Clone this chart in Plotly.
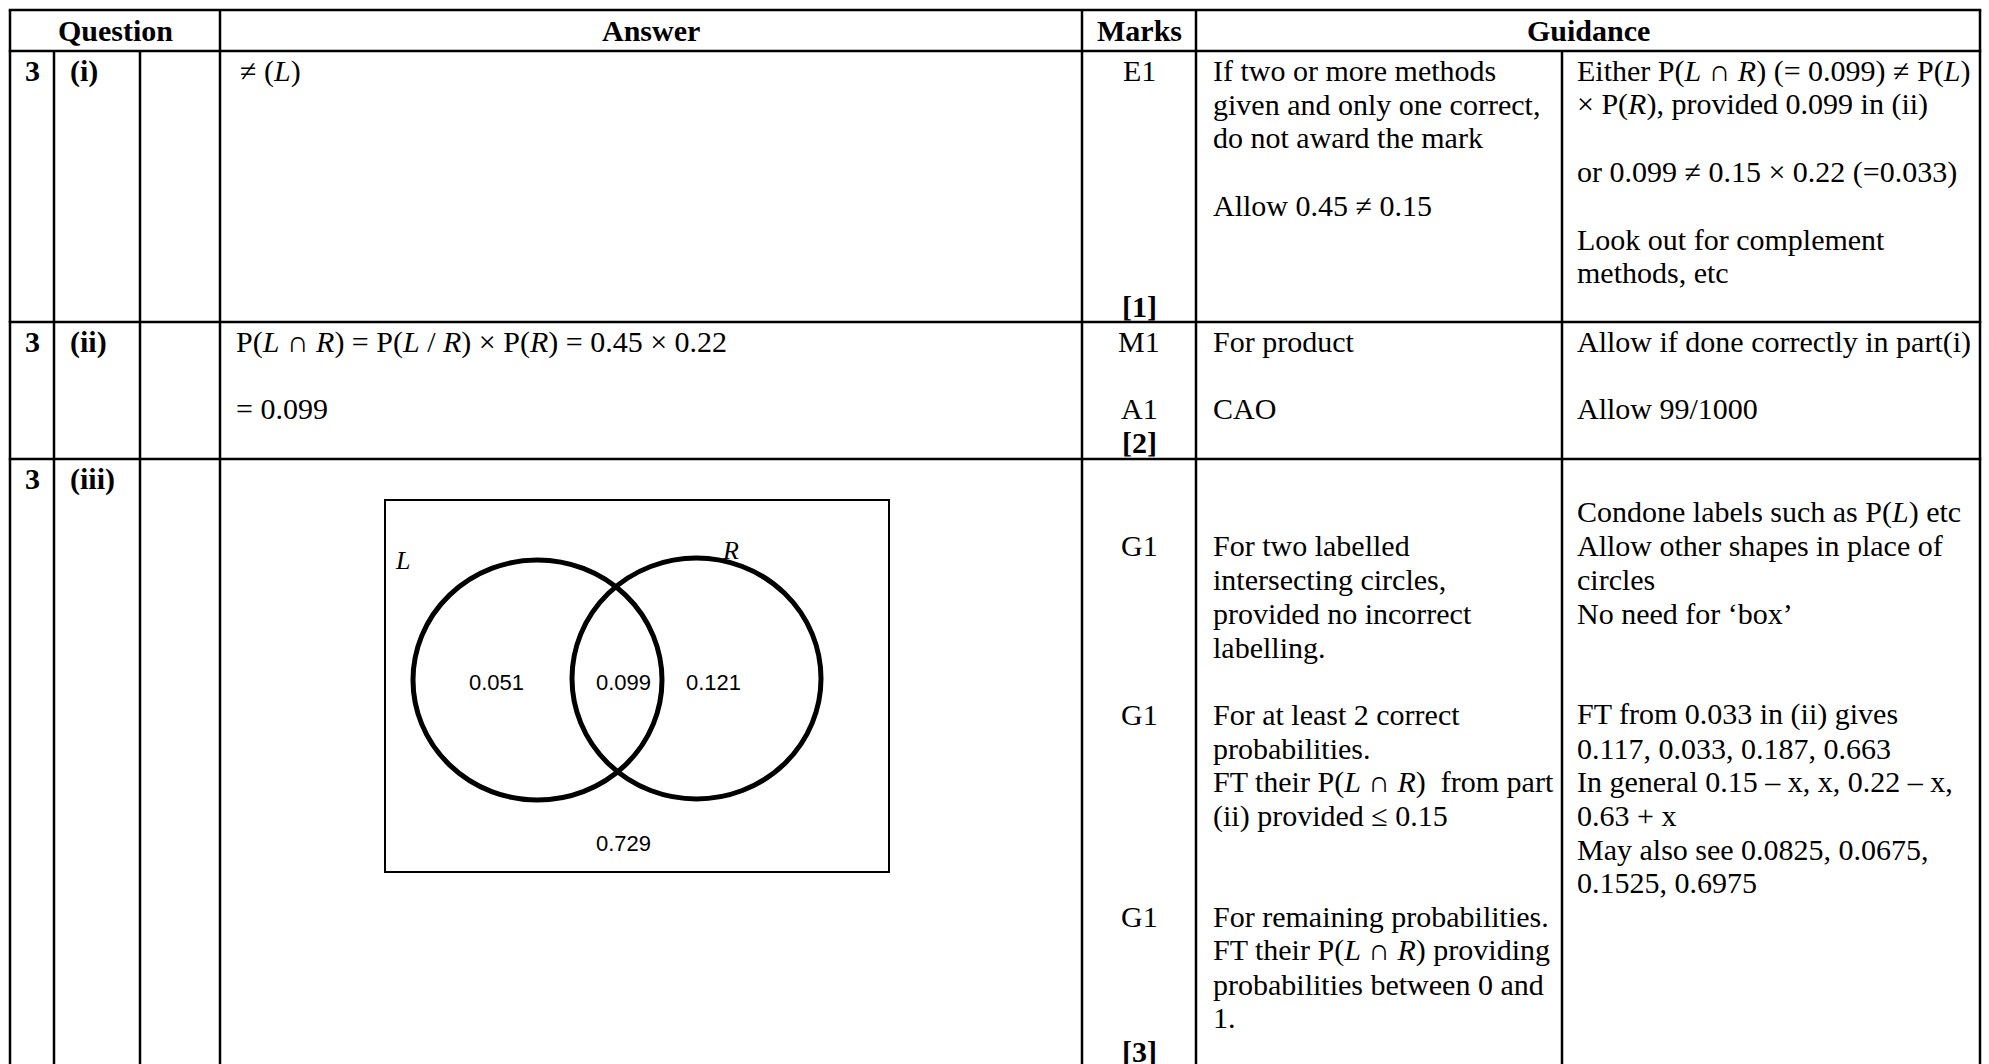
import plotly.graph_objects as go

# ---------------- data (text content of the mark-scheme table) ----------------
header_labels = ["Question", "Answer", "Marks", "Guidance"]
question_numbers = ["3", "3", "3"]
question_parts = ["(i)", "(ii)", "(iii)"]

# row 3(i)
answer_i = ["≠ (<i>L</i>)"]
marks_i = ["E1", "", "", "", "", "", "", "<b>[1]</b>"]
guidance_a_i = ["If two or more methods", "given and only one correct,",
                "do not award the mark", "", "Allow 0.45 ≠ 0.15"]
guidance_b_i = ["Either P(<i>L</i> ∩ <i>R</i>) (= 0.099) ≠ P(<i>L</i>)",
                "× P(<i>R</i>), provided 0.099 in (ii)", "",
                "or 0.099 ≠ 0.15 × 0.22 (=0.033)", "",
                "Look out for complement", "methods, etc"]

# row 3(ii)
answer_ii = ["P(<i>L</i> ∩ <i>R</i>) = P(<i>L</i> / <i>R</i>) × P(<i>R</i>) = 0.45 × 0.22",
             "", "= 0.099"]
marks_ii = ["M1", "", "A1", "<b>[2]</b>"]
guidance_a_ii = ["For product", "", "CAO"]
guidance_b_ii = ["Allow if done correctly in part(i)", "", "Allow 99/1000"]

# row 3(iii)
marks_iii = ["", "", "G1", "", "", "", "", "G1", "", "", "", "", "", "G1",
             "", "", "", "<b>[3]</b>"]
guidance_a_iii = ["", "", "For two labelled", "intersecting circles,",
                  "provided no incorrect", "labelling.", "",
                  "For at least 2 correct", "probabilities.",
                  "FT their P(<i>L</i> ∩ <i>R</i>)  from part",
                  "(ii) provided ≤ 0.15", "", "",
                  "For remaining probabilities.",
                  "FT their P(<i>L</i> ∩ <i>R</i>) providing",
                  "probabilities between 0 and", "1."]
guidance_b_iii = ["", "Condone labels such as P(<i>L</i>) etc",
                  "Allow other shapes in place of", "circles",
                  "No need for ‘box’", "", "",
                  "FT from 0.033 in (ii) gives",
                  "0.117, 0.033, 0.187, 0.663",
                  "In general 0.15 – x, x, 0.22 – x,",
                  "0.63 + x", "May also see 0.0825, 0.0675,",
                  "0.1525, 0.6975"]

venn_sets = ["L", "R"]
venn_values = ["0.051", "0.099", "0.121", "0.729"]

# ---------------- layout geometry ----------------
W, H = 1989, 1064
col_x = [10, 54, 140, 220, 1082, 1196, 1562, 1980]
row_y = [10, 51, 322, 459, H + 5]
LINE_H = 33.7
FIRST = 19.5
SERIF = "Liberation Serif, Times New Roman, serif"
SANS = "Liberation Sans, Arial, sans-serif"
FS = 30
LW = 2.5

fig = go.Figure()
shapes = []
annotations = []


def hline(y, x0, x1, w=LW):
    shapes.append(dict(type="line", xref="x", yref="y", x0=x0, x1=x1, y0=y, y1=y,
                       line=dict(color="black", width=w)))


def vline(x, y0, y1, w=LW):
    shapes.append(dict(type="line", xref="x", yref="y", x0=x, x1=x, y0=y0, y1=y1,
                       line=dict(color="black", width=w)))


def text(x, y, s, anchor="left", size=FS, family=SERIF):
    if not s:
        return
    annotations.append(dict(x=x, y=y, xref="x", yref="y", text=s, showarrow=False,
                            xanchor=anchor, yanchor="middle",
                            font=dict(family=family, size=size, color="black")))


def lines(x, top, items, anchor="left"):
    for i, s in enumerate(items):
        text(x, top + FIRST + i * LINE_H, s, anchor)


# grid
for y in row_y[:4]:
    hline(y, col_x[0] - LW / 2, col_x[-1] + LW / 2)
for x in [col_x[0], col_x[3], col_x[4], col_x[5], col_x[7]]:
    vline(x, row_y[0], row_y[-1])
for x in [col_x[1], col_x[2], col_x[6]]:
    vline(x, row_y[1], row_y[-1])

# header
hy = (row_y[0] + row_y[1]) / 2
text((col_x[0] + col_x[3]) / 2, hy, "<b>%s</b>" % header_labels[0], "center")
text((col_x[3] + col_x[4]) / 2, hy, "<b>%s</b>" % header_labels[1], "center")
text((col_x[4] + col_x[5]) / 2, hy, "<b>%s</b>" % header_labels[2], "center")
text((col_x[5] + col_x[7]) / 2, hy, "<b>%s</b>" % header_labels[3], "center")

# question columns
for k in range(3):
    top = row_y[k + 1]
    text((col_x[0] + col_x[1]) / 2, top + FIRST, "<b>%s</b>" % question_numbers[k], "center")
    text(col_x[1] + 14, top + FIRST, "<b>%s</b>" % question_parts[k], "left")

ans_x = col_x[3] + 14
mark_x = (col_x[4] + col_x[5]) / 2
ga_x = col_x[5] + 15
gb_x = col_x[6] + 13

# row (i)
lines(ans_x + 4, row_y[1], answer_i)
lines(mark_x, row_y[1], marks_i, "center")
lines(ga_x, row_y[1], guidance_a_i)
lines(gb_x, row_y[1], guidance_b_i)

# row (ii)
lines(ans_x, row_y[2], answer_ii)
lines(mark_x, row_y[2], marks_ii, "center")
lines(ga_x, row_y[2], guidance_a_ii)
lines(gb_x, row_y[2], guidance_b_ii)

# row (iii)
lines(mark_x, row_y[3], marks_iii, "center")
lines(ga_x, row_y[3], guidance_a_iii)
lines(gb_x, row_y[3], guidance_b_iii)

# Venn diagram
box = dict(x0=385, x1=889, y0=500, y1=872)
shapes.append(dict(type="rect", xref="x", yref="y", **box,
                   line=dict(color="black", width=2)))
circles = [dict(x0=413, x1=662, y0=560, y1=800), dict(x0=572, x1=821, y0=558, y1=799)]
for c in circles:
    shapes.append(dict(type="circle", xref="x", yref="y", **c,
                       line=dict(color="black", width=5)))
text(393, 560, "<i>%s</i>" % venn_sets[0], "left", size=26)
text(720, 550, "<i>%s</i>" % venn_sets[1], "left", size=26)
vy = 682
text(496, vy, venn_values[0], "center", size=22, family=SANS)
text(623, vy, venn_values[1], "center", size=22, family=SANS)
text(713, vy, venn_values[2], "center", size=22, family=SANS)
text(623, 843, venn_values[3], "center", size=22, family=SANS)

fig.update_layout(
    width=W, height=H,
    margin=dict(l=0, r=0, t=0, b=0),
    paper_bgcolor="white", plot_bgcolor="white",
    xaxis=dict(range=[0, W], visible=False, fixedrange=True),
    yaxis=dict(range=[H, 0], visible=False, fixedrange=True),
    shapes=shapes, annotations=annotations,
    showlegend=False,
)

fig.write_html("out.html", config={"displayModeBar": False},
               post_script="document.body.style.margin='0';document.body.style.overflow='hidden';")
